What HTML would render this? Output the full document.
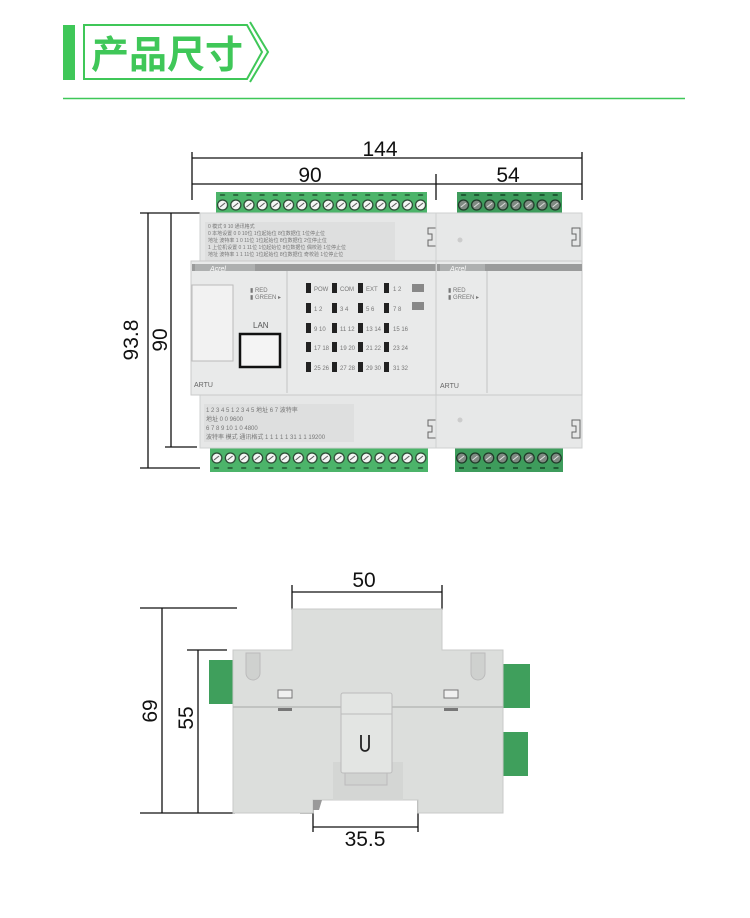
<!DOCTYPE html>
<html><head><meta charset="utf-8"><style>
html,body{margin:0;padding:0;background:#fff;}
svg{display:block;}
text{font-family:"Liberation Sans","Noto Sans CJK SC",sans-serif;}
</style></head><body>
<svg width="750" height="918" viewBox="0 0 750 918" xmlns="http://www.w3.org/2000/svg">
<defs>
<pattern id="term" x="216" y="192" width="13.2" height="22" patternUnits="userSpaceOnUse">
<rect width="13.2" height="22" fill="#4cb46a"/>
<rect x="4" y="2" width="5" height="2" fill="#2d6d40"/>
<circle cx="6.6" cy="13" r="5" fill="#f4f6f4" stroke="#2b4a34" stroke-width="1.3"/>
<line x1="4" y1="15" x2="9" y2="11" stroke="#555" stroke-width="1"/>
</pattern>
<pattern id="termR" x="457" y="192" width="13.1" height="22" patternUnits="userSpaceOnUse">
<rect width="13.1" height="22" fill="#3e9c5c"/>
<rect x="4" y="2" width="5" height="2" fill="#1f5a33"/>
<circle cx="6.5" cy="13" r="5" fill="#7f8a82" stroke="#1e3a28" stroke-width="1.3"/>
<line x1="4" y1="15" x2="9" y2="11" stroke="#ddd" stroke-width="1"/>
</pattern>
<pattern id="termB" x="210" y="446" width="13.6" height="26" patternUnits="userSpaceOnUse">
<rect width="13.6" height="26" fill="#4cb46a"/>
<rect x="4" y="21" width="5" height="2" fill="#2d6d40"/>
<circle cx="6.8" cy="12" r="5" fill="#f4f6f4" stroke="#2b4a34" stroke-width="1.3"/>
<line x1="4" y1="14" x2="9" y2="10" stroke="#555" stroke-width="1"/>
</pattern>
<pattern id="termBR" x="455" y="446" width="13.5" height="26" patternUnits="userSpaceOnUse">
<rect width="13.5" height="26" fill="#3e9c5c"/>
<rect x="4" y="21" width="5" height="2" fill="#1f5a33"/>
<circle cx="6.7" cy="12" r="5" fill="#7f8a82" stroke="#1e3a28" stroke-width="1.3"/>
<line x1="4" y1="14" x2="9" y2="10" stroke="#ddd" stroke-width="1"/>
</pattern>
</defs>

<!-- header -->
<rect x="63" y="25" width="12" height="55" fill="#3fc758"/>
<polygon points="84,25 247,25 262,52 247,79 84,79" fill="none" stroke="#3fc758" stroke-width="2"/>
<polyline points="250,22 268,52 250,82" fill="none" stroke="#3fc758" stroke-width="2"/>
<text x="91" y="68" font-size="38" font-weight="bold" fill="#3fc758" font-family="'Noto Sans CJK SC',sans-serif">产品尺寸</text>
<line x1="63" y1="98.5" x2="685" y2="98.5" stroke="#3fc758" stroke-width="1.5"/>

<!-- top dims -->
<g stroke="#111" stroke-width="1.3" fill="none">
<line x1="192" y1="158" x2="582" y2="158"/>
<line x1="192" y1="152" x2="192" y2="200"/>
<line x1="582" y1="152" x2="582" y2="200"/>
<line x1="192" y1="184" x2="582" y2="184"/>
<line x1="436" y1="174" x2="436" y2="200"/>
<line x1="148" y1="213" x2="148" y2="468"/>
<line x1="140" y1="213" x2="200" y2="213"/>
<line x1="140" y1="468" x2="200" y2="468"/>
<line x1="171" y1="213" x2="171" y2="447"/>
<line x1="165" y1="447" x2="197" y2="447"/>
</g>
<text x="380" y="156" font-size="21" text-anchor="middle" fill="#111">144</text>
<text x="310" y="182" font-size="21" text-anchor="middle" fill="#111">90</text>
<text x="508" y="182" font-size="21" text-anchor="middle" fill="#111">54</text>
<text transform="translate(138,340) rotate(-90)" font-size="21" text-anchor="middle" fill="#111">93.8</text>
<text transform="translate(167,340) rotate(-90)" font-size="21" text-anchor="middle" fill="#111">90</text>

<!-- terminals -->
<rect x="216" y="192" width="211" height="22" fill="url(#term)"/>
<rect x="457" y="192" width="105" height="22" fill="url(#termR)"/>
<rect x="210" y="446" width="218" height="26" fill="url(#termB)"/>
<rect x="455" y="446" width="108" height="26" fill="url(#termBR)"/>

<!-- left module -->
<rect x="200" y="213" width="236" height="50" fill="#e6e7e7" stroke="#cfd0d0"/>
<rect x="205" y="222" width="190" height="40" fill="#dedfdf"/>
<g font-size="5" fill="#777">
<text x="208" y="228">0    模式     9 10          通讯格式</text>
<text x="208" y="235">0  本地设置  0 0 10位 1位起始位 8位数据位 1位停止位</text>
<text x="208" y="242">    地址 波特率  1 0 11位 1位起始位 8位数据位 2位停止位</text>
<text x="208" y="249">1  上位机设置 0 1 11位 1位起始位 8位数据位 偶校验 1位停止位</text>
<text x="208" y="256">    地址 波特率  1 1 11位 1位起始位 8位数据位 奇校验 1位停止位</text>
</g>
<rect x="200" y="395" width="236" height="53" fill="#e6e7e7" stroke="#cfd0d0"/>
<rect x="204" y="404" width="150" height="38" fill="#dedfdf"/>
<g font-size="6" fill="#777">
<text x="206" y="412">1 2 3 4 5   1 2 3 4 5 地址   6 7 波特率</text>
<text x="206" y="421">地址                          0 0 9600</text>
<text x="206" y="430">6 7 8 9 10                    1 0 4800</text>
<text x="206" y="439">波特率 模式 通讯格式  1 1 1 1 1 31  1 1 19200</text>
</g>
<rect x="191" y="261" width="246" height="134" fill="#e9eaea" stroke="#c9caca"/>
<rect x="192" y="264" width="244" height="7" fill="#9a9b9b"/>
<rect x="195" y="264" width="60" height="7" fill="#aeb0b0"/>
<text x="210" y="271" font-size="7" fill="#fff" font-style="italic">Acrel</text>
<rect x="192" y="285" width="41" height="76" fill="#f2f2f2" stroke="#bbb"/>
<line x1="287" y1="271" x2="287" y2="393" stroke="#c4c4c4"/>
<text x="250" y="292" font-size="6" fill="#777">▮ RED</text>
<text x="250" y="299" font-size="6" fill="#777">▮ GREEN ▸</text>
<text x="253" y="328" font-size="8" fill="#555">LAN</text>
<rect x="240" y="334" width="40" height="33" fill="#f4f4f4" stroke="#111" stroke-width="2.5"/>
<text x="194" y="387" font-size="7" fill="#666">ARTU</text>
<g fill="#222">
<rect x="306" y="283" width="5" height="10"/><rect x="332" y="283" width="5" height="10"/><rect x="358" y="283" width="5" height="10"/><rect x="384" y="283" width="5" height="10"/>
<rect x="306" y="303" width="5" height="10"/><rect x="332" y="303" width="5" height="10"/><rect x="358" y="303" width="5" height="10"/><rect x="384" y="303" width="5" height="10"/>
<rect x="306" y="323" width="5" height="10"/><rect x="332" y="323" width="5" height="10"/><rect x="358" y="323" width="5" height="10"/><rect x="384" y="323" width="5" height="10"/>
<rect x="306" y="342" width="5" height="10"/><rect x="332" y="342" width="5" height="10"/><rect x="358" y="342" width="5" height="10"/><rect x="384" y="342" width="5" height="10"/>
<rect x="306" y="362" width="5" height="10"/><rect x="332" y="362" width="5" height="10"/><rect x="358" y="362" width="5" height="10"/><rect x="384" y="362" width="5" height="10"/>
<rect x="507" y="283" width="5" height="10"/><rect x="533" y="283" width="5" height="10"/>
<rect x="507" y="303" width="5" height="10"/><rect x="533" y="303" width="5" height="10"/>
<rect x="507" y="323" width="5" height="10"/><rect x="533" y="323" width="5" height="10"/>
<rect x="507" y="343" width="5" height="10"/><rect x="533" y="343" width="5" height="10"/>
<rect x="507" y="363" width="5" height="10"/><rect x="533" y="363" width="5" height="10"/>
</g>
<g font-size="6" fill="#777">
<text x="314" y="291">POW</text><text x="340" y="291">COM</text><text x="366" y="291">EXT</text><text x="393" y="291">1 2</text>
<text x="314" y="311">1 2</text><text x="340" y="311">3 4</text><text x="366" y="311">5 6</text><text x="393" y="311">7 8</text>
<text x="314" y="331">9 10</text><text x="340" y="331">11 12</text><text x="366" y="331">13 14</text><text x="393" y="331">15 16</text>
<text x="314" y="350">17 18</text><text x="340" y="350">19 20</text><text x="366" y="350">21 22</text><text x="393" y="350">23 24</text>
<text x="314" y="370">25 26</text><text x="340" y="370">27 28</text><text x="366" y="370">29 30</text><text x="393" y="370">31 32</text>
<text x="515" y="291">POW</text><text x="541" y="291">1 2</text>
<text x="515" y="311">3 4</text><text x="541" y="311">5 6</text>
<text x="515" y="331">7 8</text><text x="541" y="331">9 10</text>
<text x="515" y="351">11 12</text><text x="541" y="351">13 14</text>
<text x="515" y="371">15 16</text><text x="541" y="371">17 18</text>
</g>
<rect x="412" y="284" width="12" height="8" fill="#888"/><rect x="412" y="302" width="12" height="8" fill="#888"/>
<rect x="562" y="284" width="12" height="8" fill="#888"/>
<path d="M428,228 h8 v18 h-8 v-6 h4 v-6 h-4z" fill="none" stroke="#666"/>
<path d="M428,420 h8 v18 h-8 v-6 h4 v-6 h-4z" fill="none" stroke="#666"/>

<!-- right module -->
<rect x="436" y="213" width="146" height="50" fill="#e7e8e8" stroke="#cfd0d0"/>
<rect x="436" y="395" width="146" height="53" fill="#e7e8e8" stroke="#cfd0d0"/>
<rect x="436" y="261" width="146" height="134" fill="#e9eaea" stroke="#c9caca"/>
<rect x="437" y="264" width="145" height="7" fill="#9a9b9b"/>
<rect x="440" y="264" width="45" height="7" fill="#aeb0b0"/>
<text x="450" y="271" font-size="7" fill="#fff" font-style="italic">Acrel</text>
<line x1="487" y1="271" x2="487" y2="393" stroke="#c4c4c4"/>
<text x="448" y="292" font-size="6" fill="#777">▮ RED</text>
<text x="448" y="299" font-size="6" fill="#777">▮ GREEN ▸</text>
<text x="440" y="388" font-size="7" fill="#666">ARTU</text>
<circle cx="460" cy="240" r="2.5" fill="#ccc"/>
<circle cx="460" cy="420" r="2.5" fill="#ccc"/>
<path d="M572,228 h8 v18 h-8 v-6 h4 v-6 h-4z" fill="none" stroke="#666"/>
<path d="M572,420 h8 v18 h-8 v-6 h4 v-6 h-4z" fill="none" stroke="#666"/>

<!-- bottom view dims -->
<g stroke="#111" stroke-width="1.3" fill="none">
<line x1="292" y1="592" x2="442" y2="592"/>
<line x1="292" y1="585" x2="292" y2="610"/>
<line x1="442" y1="585" x2="442" y2="610"/>
<line x1="140" y1="608" x2="237" y2="608"/>
<line x1="162" y1="608" x2="162" y2="813"/>
<line x1="140" y1="813" x2="235" y2="813"/>
<line x1="187" y1="650" x2="227" y2="650"/>
<line x1="198" y1="650" x2="198" y2="813"/>
<line x1="313" y1="800" x2="313" y2="832"/>
<line x1="418" y1="800" x2="418" y2="832"/>
<line x1="313" y1="827" x2="418" y2="827"/>
<line x1="300" y1="799" x2="313" y2="799"/>
<line x1="300" y1="813" x2="313" y2="813"/>
</g>
<text x="364" y="587" font-size="21" text-anchor="middle" fill="#111">50</text>
<text x="365" y="846" font-size="21" text-anchor="middle" fill="#111">35.5</text>
<text transform="translate(157,711) rotate(-90)" font-size="21" text-anchor="middle" fill="#111">69</text>
<text transform="translate(193,718) rotate(-90)" font-size="21" text-anchor="middle" fill="#111">55</text>
<text transform="translate(298,806) rotate(-90)" font-size="18" text-anchor="middle" fill="#111">5</text>

<!-- bottom view device -->
<rect x="209" y="660" width="25" height="44" fill="#3f9f5c"/>
<rect x="503" y="664" width="27" height="44" fill="#3f9f5c"/>
<rect x="503" y="732" width="25" height="44" fill="#3f9f5c"/>
<path d="M292,609 h150 v41 h61 v163 h-85 v-13 h-105 v13 h-80 v-163 h59z" fill="#dcdedc" stroke="#c8cac8"/>
<line x1="233" y1="707" x2="503" y2="707" stroke="#b8bab8" stroke-width="1.5"/>
<path d="M246,653 h14 v20 a7,7 0 0 1 -14,0z" fill="#cfd1cf" stroke="#bbb"/>
<path d="M471,653 h14 v20 a7,7 0 0 1 -14,0z" fill="#cfd1cf" stroke="#bbb"/>
<rect x="278" y="690" width="14" height="8" fill="#f0f0f0" stroke="#777"/>
<rect x="278" y="708" width="14" height="3" fill="#777"/>
<rect x="444" y="690" width="14" height="8" fill="#f0f0f0" stroke="#777"/>
<rect x="444" y="708" width="14" height="3" fill="#777"/>
<rect x="333" y="762" width="70" height="38" fill="#d4d6d4"/>
<rect x="345" y="770" width="42" height="15" fill="#d0d2d0" stroke="#bbb"/>
<rect x="341" y="693" width="51" height="80" rx="2" fill="#e3e5e3" stroke="#bbb"/>
<line x1="341" y1="714" x2="392" y2="714" stroke="#bbb"/>
<path d="M361,735 v12 a4,4 0 0 0 8,0 v-12" fill="none" stroke="#222" stroke-width="1.8"/>
<path d="M313,800 h9 l-3,10 h-6z" fill="#999"/>
</svg>
</body></html>
